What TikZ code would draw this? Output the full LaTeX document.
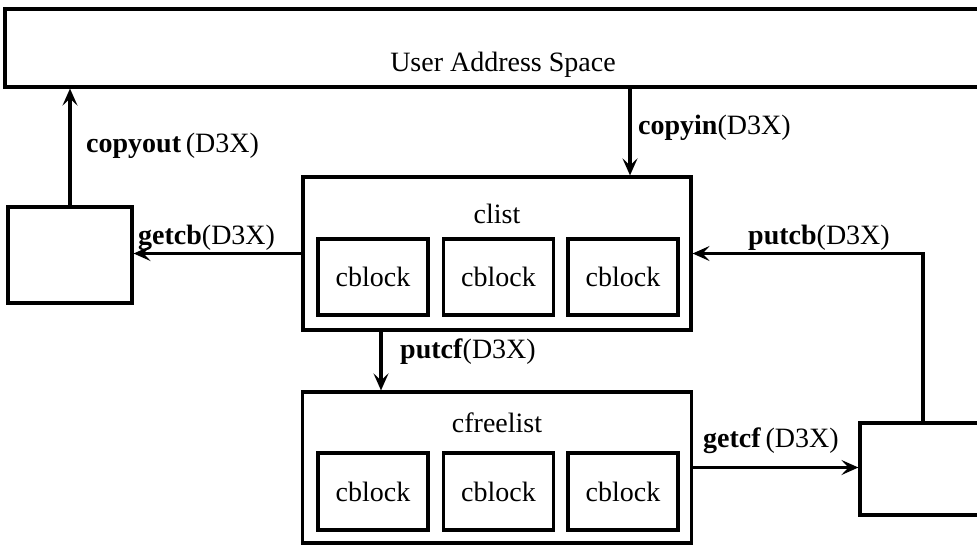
\documentclass[tikz,border=0pt]{standalone}
\usepackage{fontspec}
\setmainfont{Liberation Serif}
\usetikzlibrary{arrows.meta}
\begin{document}
\begin{tikzpicture}[x=1pt,y=-1pt,
  box/.style={draw, line width=3.2pt, inner sep=0pt},
  txt/.style={font=\fontsize{28}{34}\selectfont, inner sep=0pt},
  flow/.style={line width=3.2pt, -{Stealth[length=17pt,width=15pt,inset=7pt]}}]
\useasboundingbox (0,0) rectangle (977,546);
\fill[white] (0,0) rectangle (977,546);

% user address space (runs off the right edge)
\node[box, minimum width=995pt, minimum height=78pt] (uas) at (502.5,48) {};
\node[txt, anchor=base] (uastxt) at (503,71) {User Address Space};

% left and right buffers
\node[box, minimum width=124pt, minimum height=96pt] (lbox) at (70,255) {};
\node[box, minimum width=140pt, minimum height=92pt] (rbox) at (930,469) {};

% clist with its cblocks
\node[box, minimum width=388pt, minimum height=153pt] (clist) at (497,253.5) {};
\node[txt, anchor=base] (clisttxt) at (497,223) {clist};
\node[box, txt, minimum width=110pt, minimum height=76pt] (cb1) at (373,277) {cblock};
\node[box, txt, minimum width=110pt, minimum height=76pt] (cb2) at (498.5,277) {cblock};
\node[box, txt, minimum width=110pt, minimum height=76pt] (cb3) at (623,277) {cblock};

% cfreelist with its cblocks
\node[box, minimum width=389pt, minimum height=151pt] (cfl) at (497,467.5) {};
\node[txt, anchor=base] (cfltxt) at (497,432) {cfreelist};
\node[box, txt, minimum width=110pt, minimum height=77pt] (fb1) at (373,491.5) {cblock};
\node[box, txt, minimum width=110pt, minimum height=77pt] (fb2) at (498.5,491.5) {cblock};
\node[box, txt, minimum width=110pt, minimum height=77pt] (fb3) at (623,491.5) {cblock};

% connector columns
\coordinate (cin) at (630,0);
\coordinate (pcf) at (381,0);
\coordinate (pcb) at (923,0);

% connectors
\draw[flow] (lbox.north) -- (lbox.north |- uas.south);
\draw[flow] (uas.south -| cin) -- (clist.north -| cin);
\draw[flow] (clist.west) -- (clist.west -| lbox.east);
\draw[flow] (rbox.north -| pcb) |- (clist.east);
\draw[flow] (clist.south -| pcf) -- (cfl.north -| pcf);
\draw[flow] (cfl.east) -- (cfl.east -| rbox.west);

% connector labels
\node[txt, anchor=base west] (lout) at (86,152) {\textbf{copyout}\,(D3X)};
\node[txt, anchor=base west] (lin) at (638,134) {\textbf{copyin}(D3X)};
\node[txt, anchor=base west] (lgcb) at (138,244) {\textbf{getcb}(D3X)};
\node[txt, anchor=base west] (lpcb) at (748,244) {\textbf{putcb}(D3X)};
\node[txt, anchor=base west] (lpcf) at (400,358) {\textbf{putcf}(D3X)};
\node[txt, anchor=base west] (lgcf) at (703,447) {\textbf{getcf}\,(D3X)};
\end{tikzpicture}
\end{document}
